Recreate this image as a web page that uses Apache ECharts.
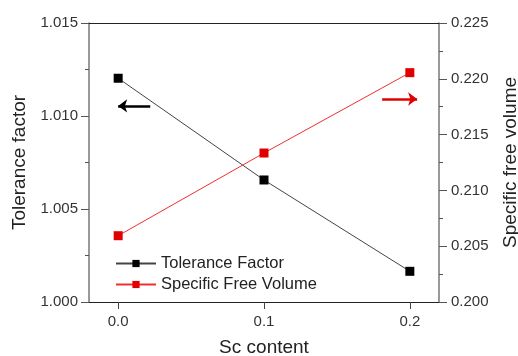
<!DOCTYPE html>
<html>
<head>
<meta charset="utf-8">
<script src="https://cdn.jsdelivr.net/npm/echarts@6/dist/echarts.min.js"></script>
<style>html,body{margin:0;padding:0;background:#fff;}#c{width:518px;height:356px;}</style>
</head>
<body>
<div id="c"></div>
<script>
var scContent = [0.0, 0.1, 0.2];
var toleranceFactor = [1.01203, 1.00656, 1.00165];
var specificFreeVolume = [0.20594, 0.21335, 0.22055];
var xTicks = [0.0, 0.1, 0.2];
var leftTicks = [1.000, 1.005, 1.010, 1.015];
var rightTicks = [0.200, 0.205, 0.210, 0.215, 0.220, 0.225];
var blackArrow = [[0.022, 1.01054], [0.0, 1.01054]];
var redArrow = [[0.181, 0.21819], [0.205, 0.21819]];

var font = 'Liberation Sans, Arial, sans-serif';
var chart = echarts.init(document.getElementById('c'));
chart.setOption({
  animation: false,
  backgroundColor: '#fff',
  grid: {left: 89, right: 79, top: 23, bottom: 54, containLabel: false, outerBoundsMode: 'none'},
  legend: {
    orient: 'vertical', left: 110, top: 250, itemGap: 4,
    itemWidth: 40, itemHeight: 9,
    textStyle: {fontFamily: font, fontSize: 16.5, color: '#222'},
    data: ['Tolerance Factor', 'Specific Free Volume']
  },
  xAxis: [{
    type: 'value', min: -0.02, max: 0.22,
    name: 'Sc content', nameLocation: 'middle', nameGap: 36,
    nameTextStyle: {fontFamily: font, fontSize: 19, color: '#222'},
    axisLine: {onZero: false, lineStyle: {color: '#222', width: 1}},
    axisTick: {show: true, customValues: xTicks, length: 7, lineStyle: {color: '#444'}},
    axisLabel: {customValues: xTicks, formatter: function(v){return v.toFixed(1);}, fontFamily: font, fontSize: 15, color: '#333', margin: 12},
    splitLine: {show: false}
  }, {
    type: 'value', min: -0.02, max: 0.22, position: 'top',
    axisLine: {show: true, onZero: false, lineStyle: {color: '#222', width: 1}},
    axisTick: {show: false}, axisLabel: {show: false}, splitLine: {show: false}
  }],
  yAxis: [{
    type: 'value', min: 1.000, max: 1.015, interval: 0.005, position: 'left',
    name: 'Tolerance factor', nameLocation: 'middle', nameGap: 57,
    nameTextStyle: {fontFamily: font, fontSize: 19, color: '#222'},
    axisLine: {show: true, onZero: false, lineStyle: {color: '#777', width: 1.5}},
    axisTick: {show: true, length: 8, lineStyle: {color: '#555'}},
    minorTick: {show: true, splitNumber: 2, length: 4, lineStyle: {color: '#555'}},
    axisLabel: {formatter: function(v){return v.toFixed(3);}, fontFamily: font, fontSize: 15, color: '#333', margin: 11},
    splitLine: {show: false}
  }, {
    type: 'value', min: 0.200, max: 0.225, interval: 0.005, position: 'right',
    name: 'Specific free volume', nameLocation: 'middle', nameGap: 62,
    nameTextStyle: {fontFamily: font, fontSize: 19, color: '#222'},
    axisLine: {show: true, onZero: false, lineStyle: {color: '#777', width: 1.5}},
    axisTick: {show: true, length: 8, lineStyle: {color: '#555'}},
    minorTick: {show: true, splitNumber: 2, length: 4, lineStyle: {color: '#555'}},
    axisLabel: {formatter: function(v){return v.toFixed(3);}, fontFamily: font, fontSize: 15, color: '#333', margin: 12},
    splitLine: {show: false}
  }],
  series: [{
    name: 'Tolerance Factor', type: 'line', xAxisIndex: 0, yAxisIndex: 0,
    data: scContent.map(function(x, i){return [x, toleranceFactor[i]];}),
    symbol: 'rect', symbolSize: 9,
    lineStyle: {color: '#444', width: 1},
    itemStyle: {color: '#000'},
    markLine: {
      silent: true, symbol: ['none', 'arrow'], symbolSize: [10, 9],
      lineStyle: {color: '#000', width: 2.5, type: 'solid'},
      label: {show: false},
      data: [[{coord: blackArrow[0]}, {coord: blackArrow[1]}]]
    }
  }, {
    name: 'Specific Free Volume', type: 'line', xAxisIndex: 0, yAxisIndex: 1,
    data: scContent.map(function(x, i){return [x, specificFreeVolume[i]];}),
    symbol: 'rect', symbolSize: 9,
    lineStyle: {color: '#f03030', width: 1},
    itemStyle: {color: '#e00000'},
    markLine: {
      silent: true, symbol: ['none', 'arrow'], symbolSize: [10, 9],
      lineStyle: {color: '#e00000', width: 2.5, type: 'solid'},
      label: {show: false},
      data: [[{coord: redArrow[0]}, {coord: redArrow[1]}]]
    }
  }]
});
</script>
</body>
</html>
